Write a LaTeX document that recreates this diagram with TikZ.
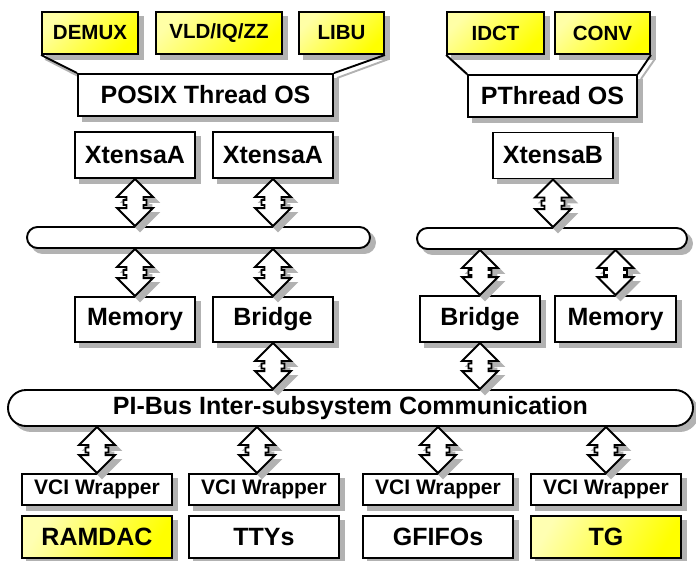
\documentclass[tikz,border=0pt]{standalone}
\usepackage{fontspec}
\setmainfont{Liberation Sans}
\usetikzlibrary{calc}
\definecolor{shd}{RGB}{178,178,178}
\tikzset{
  box/.style={draw, line width=1.9pt, fill=white, inner sep=0pt,
    font=\fontsize{25}{30}\selectfont\bfseries},
  ybox/.style={box, top color=yellow!35, bottom color=yellow, shading angle=45,
    font=\fontsize{20.5}{24}\selectfont\bfseries},
  ybig/.style={box, top color=yellow!30, bottom color=yellow, shading angle=60},
  vci/.style={box, font=\fontsize{21}{25}\selectfont\bfseries},
  arr/.style={draw, line width=1.9pt, fill=white, line join=miter},
  conn/.style={line width=1.9pt},
  shdw/.style={draw=shd, line width=1.9pt, fill=shd, inner sep=0pt},
}
% #1 top point, #2 bottom point, #3 options, #4 x offset (right), #5 y offset (down)
\newcommand\arrshape[5]{%
  \path[#3] let \p1=(#1), \p2=(#2), \p3=($(#1)!0.5!(#2)$),
     \p1=(\x1+#4,\y1-#5), \p2=(\x2+#4,\y2-#5), \p3=(\x3+#4,\y3-#5) in
  (\x1,\y1) -- (\x1+18pt,\y1-18pt) -- (\x1+8.5pt,\y1-18pt) -- (\x1+8.5pt,\y3+2.5pt)
  -- (\x1+11.5pt,\y3+2.5pt) -- (\x1+11.5pt,\y3-2.5pt) -- (\x1+8.5pt,\y3-2.5pt)
  -- (\x1+8.5pt,\y2+18pt) -- (\x1+18pt,\y2+18pt) -- (\x1,\y2)
  -- (\x1-18pt,\y2+18pt) -- (\x1-8.5pt,\y2+18pt) -- (\x1-8.5pt,\y3-2.5pt)
  -- (\x1-11.5pt,\y3-2.5pt) -- (\x1-11.5pt,\y3+2.5pt) -- (\x1-8.5pt,\y3+2.5pt)
  -- (\x1-8.5pt,\y1-18pt) -- (\x1-18pt,\y1-18pt) -- cycle;}
\newcommand\dblarr[2]{%
  \arrshape{#1}{#2}{draw=shd, fill=shd, line width=1.9pt}{5pt}{5pt}%
  \arrshape{#1}{#2}{arr}{0pt}{0pt}}
% shadowed node: #1 look, #2 geometry, #3 name, #4 position, #5 text
\newcommand\shadbox[5]{%
  \node[#2, shdw] at ($(#4)+(5pt,-5pt)$) {};%
  \node[#1, #2] (#3) at (#4) {#5};}
\begin{document}
\begin{tikzpicture}[x=1pt,y=-1pt]
\useasboundingbox (0,0) rectangle (696,560);

% top thread boxes
\shadbox{ybox}{minimum width=96pt, minimum height=42pt}{demux}{90,33}{DEMUX}
\shadbox{ybox}{minimum width=126pt, minimum height=42pt}{vld}{219,33}{VLD/IQ/ZZ}
\shadbox{ybox}{minimum width=85pt, minimum height=42pt}{libu}{341.5,33}{LIBU}
\shadbox{ybox}{minimum width=97pt, minimum height=42pt}{idct}{495.5,33}{IDCT}
\shadbox{ybox}{minimum width=95pt, minimum height=42pt}{conv}{602.5,33}{CONV}

% shadows of the OS fan-in lines
\coordinate (pnw) at (78,74);
\coordinate (pne) at (333,74);
\coordinate (tnw) at (468,75);
\coordinate (tne) at (637,75);
\draw[conn, shd] ([shift={(4pt,-4pt)}]demux.south west) -- ([shift={(4pt,-4pt)}]pnw);
\draw[conn, shd] ([shift={(4pt,-4pt)}]libu.south east) -- ([shift={(4pt,-4pt)}]pne);
\draw[conn, shd] ([shift={(4pt,-4pt)}]idct.south west) -- ([shift={(4pt,-4pt)}]tnw);
\draw[conn, shd] ([shift={(4pt,-4pt)}]conv.south east) -- ([shift={(4pt,-4pt)}]tne);

\shadbox{box}{minimum width=255pt, minimum height=42pt}{posix}{205.5,95}{POSIX Thread OS}
\shadbox{box}{minimum width=169pt, minimum height=42pt}{pth}{552.5,96}{PThread OS}

\draw[conn] (demux.south west) -- (posix.north west);
\draw[conn] (libu.south east) -- (posix.north east);
\draw[conn] (idct.south west) -- (pth.north west);
\draw[conn] (conv.south east) -- (pth.north east);

% processors
\shadbox{box}{minimum width=120pt, minimum height=46pt}{xa1}{135,155}{XtensaA}
\shadbox{box}{minimum width=120pt, minimum height=46pt}{xa2}{273,155}{XtensaA}
\shadbox{box}{minimum width=120pt, minimum height=46pt}{xb}{553,155.5}{XtensaB}

% local buses
\shadbox{box}{minimum width=343pt, minimum height=21pt, rounded corners=10.5pt}{bus1}{198.5,237.5}{}
\shadbox{box}{minimum width=270pt, minimum height=21pt, rounded corners=10.5pt}{bus2}{552,238.5}{}

% memories and bridges
\shadbox{box}{minimum width=120pt, minimum height=45pt}{mem1}{135,319.5}{Memory}
\shadbox{box}{minimum width=120pt, minimum height=45pt}{br1}{273,319.5}{Bridge}
\shadbox{box}{minimum width=120pt, minimum height=46pt}{br2}{480,319}{Bridge}
\shadbox{box}{minimum width=121pt, minimum height=46pt}{mem2}{615.5,319}{Memory}

% PI bus
\shadbox{box}{minimum width=685pt, minimum height=36pt, rounded corners=18pt}{pibus}{350.5,408}{PI-Bus Inter-subsystem Communication}

% wrappers
\shadbox{vci}{minimum width=150pt, minimum height=31pt}{w1}{97,489.5}{VCI Wrapper}
\shadbox{vci}{minimum width=150pt, minimum height=31pt}{w2}{264,489.5}{VCI Wrapper}
\shadbox{vci}{minimum width=150pt, minimum height=31pt}{w3}{438,489.5}{VCI Wrapper}
\shadbox{vci}{minimum width=150pt, minimum height=31pt}{w4}{606,489.5}{VCI Wrapper}
\coordinate (w2t) at ([xshift=-7pt]w2.north);

% peripherals
\shadbox{ybig}{minimum width=150pt, minimum height=42pt}{ramdac}{97,537}{RAMDAC}
\shadbox{box}{minimum width=150pt, minimum height=42pt}{ttys}{264,537}{TTYs}
\shadbox{box}{minimum width=150pt, minimum height=42pt}{gfifo}{438,537}{GFIFOs}
\shadbox{ybig}{minimum width=150pt, minimum height=42pt}{tg}{606,537}{TG}

% arrows
\dblarr{xa1.south}{bus1.north -| xa1.south}
\dblarr{xa2.south}{bus1.north -| xa2.south}
\dblarr{xb.south}{bus2.north -| xb.south}
\dblarr{bus1.south -| mem1.north}{mem1.north}
\dblarr{bus1.south -| br1.north}{br1.north}
\dblarr{bus2.south -| br2.north}{br2.north}
\dblarr{bus2.south -| mem2.north}{mem2.north}
\dblarr{br1.south}{pibus.north -| br1.south}
\dblarr{br2.south}{pibus.north -| br2.south}
\dblarr{pibus.south -| w1.north}{w1.north}
\dblarr{pibus.south -| w2t}{w2t}
\dblarr{pibus.south -| w3.north}{w3.north}
\dblarr{pibus.south -| w4.north}{w4.north}
\end{tikzpicture}
\end{document}
